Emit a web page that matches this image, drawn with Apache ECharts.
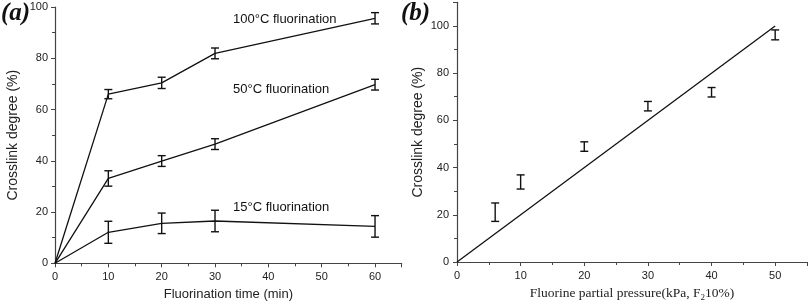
<!DOCTYPE html>
<html><head><meta charset="utf-8">
<script src="https://cdn.jsdelivr.net/npm/echarts@6/dist/echarts.min.js"></script>
<style>html,body{margin:0;padding:0;background:#fff}#c{width:810px;height:307px}</style>
</head><body><div id="c"></div>
<script>
// Panel (a)
const timeA = [0, 10, 20, 30, 60];
const y100 = [0, 66.0, 70.4, 81.9, 95.6];
const e100 = [0, 1.8, 2.2, 2.1, 2.2];
const y50 = [0, 33.1, 39.9, 46.5, 69.7];
const e50 = [0, 3.0, 2.1, 2.1, 2.1];
const y15 = [0, 12.1, 15.6, 16.5, 14.4];
const e15 = [0, 4.3, 4.0, 4.2, 4.2];
const xTicksA = [0, 10, 20, 30, 40, 50, 60];
const yTicks = [0, 20, 40, 60, 80, 100];
// Panel (b)
const pressB = [6, 10, 20, 30, 40, 50];
const crossB = [21.1, 33.9, 48.9, 66.0, 71.9, 96.2];
const errB = [3.9, 3.0, 2.0, 2.0, 2.0, 2.1];
const fitX = [0, 50];
const fitY = [0, 100];
const xTicksB = [0, 10, 20, 30, 40, 50];

const ink = '#111';
const axisCol = '#444';
const sans = '"Liberation Sans", Arial, sans-serif';
const serif = '"Liberation Serif", "Times New Roman", serif';

function errData(xs, ys, es) {
  const out = [];
  for (let i = 0; i < xs.length; i++) if (es[i] > 0) out.push([xs[i], ys[i], es[i]]);
  return out;
}
function pairs(xs, ys) { return xs.map((x, i) => [x, ys[i]]); }
function errItem(params, api) {
  const x = api.value(0), y = api.value(1), e = api.value(2);
  const t = api.coord([x, y + e]), b = api.coord([x, y - e]);
  const w = 4, st = { stroke: ink, lineWidth: 1.4 };
  return { type: 'group', children: [
    { type: 'line', shape: { x1: t[0], y1: t[1], x2: b[0], y2: b[1] }, style: st },
    { type: 'line', shape: { x1: t[0] - w, y1: t[1], x2: t[0] + w, y2: t[1] }, style: st },
    { type: 'line', shape: { x1: b[0] - w, y1: b[1], x2: b[0] + w, y2: b[1] }, style: st }
  ]};
}
function axisCommon(extra) {
  return Object.assign({
    type: 'value',
    axisLine: { show: true, onZero: false, lineStyle: { color: axisCol, width: 1.2 } },
    axisTick: { show: true, inside: false, length: 4, lineStyle: { color: axisCol } },
    minorTick: { show: true, splitNumber: 2, length: 3, lineStyle: { color: axisCol } },
    splitLine: { show: false },
    axisLabel: { color: '#222', fontFamily: sans, fontSize: 11 },
    nameTextStyle: { color: '#222', fontFamily: sans, fontSize: 13 }
  }, extra);
}

const chart = echarts.init(document.getElementById('c'), null, { renderer: 'canvas' });
chart.setOption({
  animation: false,
  backgroundColor: '#fff',
  grid: [
    { left: 55, top: 7, width: 346.7, height: 256.3 },
    { left: 457, top: 2.3, width: 352, height: 261 }
  ],
  xAxis: [
    axisCommon({ gridIndex: 0, min: 0, max: 65, interval: 10,
      axisLabel: { color: '#222', fontFamily: sans, fontSize: 11, margin: 8,
        formatter: v => xTicksA.includes(v) ? String(v) : '' },
      name: 'Fluorination time (min)', nameLocation: 'middle', nameGap: 25 }),
    axisCommon({ gridIndex: 1, min: 0, max: 55, interval: 10,
      axisLabel: { color: '#222', fontFamily: sans, fontSize: 11, margin: 8,
        formatter: v => xTicksB.includes(v) ? String(v) : '' },
      name: '{n|Fluorine partial pressure(kPa, F}{s|2}{n|10%)}', nameLocation: 'middle', nameGap: 22,
      nameTextStyle: { rich: {
        n: { fontFamily: serif, fontSize: 13.5, color: '#222', lineHeight: 18 },
        s: { fontFamily: serif, fontSize: 9, color: '#222', lineHeight: 18, verticalAlign: 'bottom' }
      } } })
  ],
  yAxis: [
    axisCommon({ gridIndex: 0, min: 0, max: 100, interval: 20,
      axisLabel: { color: '#222', fontFamily: sans, fontSize: 11, margin: 7,
        formatter: v => yTicks.includes(v) ? String(v) : '' },
      name: 'Crosslink degree (%)', nameLocation: 'middle', nameGap: 35,
      nameTextStyle: { color: '#222', fontFamily: sans, fontSize: 14 } }),
    axisCommon({ gridIndex: 1, min: 0, max: 110, interval: 20,
      axisLabel: { color: '#222', fontFamily: sans, fontSize: 11, margin: 8,
        formatter: v => yTicks.includes(v) ? String(v) : '' },
      name: 'Crosslink degree (%)', nameLocation: 'middle', nameGap: 32,
      nameTextStyle: { color: '#222', fontFamily: sans, fontSize: 14 } })
  ],
  series: [
    { type: 'line', xAxisIndex: 0, yAxisIndex: 0, data: pairs(timeA, y100), symbol: 'none', lineStyle: { color: ink, width: 1.3 } },
    { type: 'line', xAxisIndex: 0, yAxisIndex: 0, data: pairs(timeA, y50), symbol: 'none', lineStyle: { color: ink, width: 1.3 } },
    { type: 'line', xAxisIndex: 0, yAxisIndex: 0, data: pairs(timeA, y15), symbol: 'none', lineStyle: { color: ink, width: 1.3 } },
    { type: 'custom', xAxisIndex: 0, yAxisIndex: 0, renderItem: errItem, data: errData(timeA, y100, e100), z: 3 },
    { type: 'custom', xAxisIndex: 0, yAxisIndex: 0, renderItem: errItem, data: errData(timeA, y50, e50), z: 3 },
    { type: 'custom', xAxisIndex: 0, yAxisIndex: 0, renderItem: errItem, data: errData(timeA, y15, e15), z: 3 },
    { type: 'line', xAxisIndex: 1, yAxisIndex: 1, data: pairs(fitX, fitY), symbol: 'none', lineStyle: { color: ink, width: 1.3 } },
    { type: 'custom', xAxisIndex: 1, yAxisIndex: 1, renderItem: errItem, data: errData(pressB, crossB, errB), z: 3 }
  ],
  graphic: [
    { type: 'text', left: 1, top: 1, style: { text: '(a)', font: 'italic bold 25px ' + serif, fill: '#111' } },
    { type: 'text', left: 401, top: 1, style: { text: '(b)', font: 'italic bold 25px ' + serif, fill: '#111' } },
    { type: 'text', left: 233, top: 13, style: { text: '100°C fluorination', font: '13px ' + sans, fill: '#111' } },
    { type: 'text', left: 233, top: 83, style: { text: '50°C fluorination', font: '13px ' + sans, fill: '#111' } },
    { type: 'text', left: 233, top: 201, style: { text: '15°C fluorination', font: '13px ' + sans, fill: '#111' } }
  ]
});
</script></body></html>
